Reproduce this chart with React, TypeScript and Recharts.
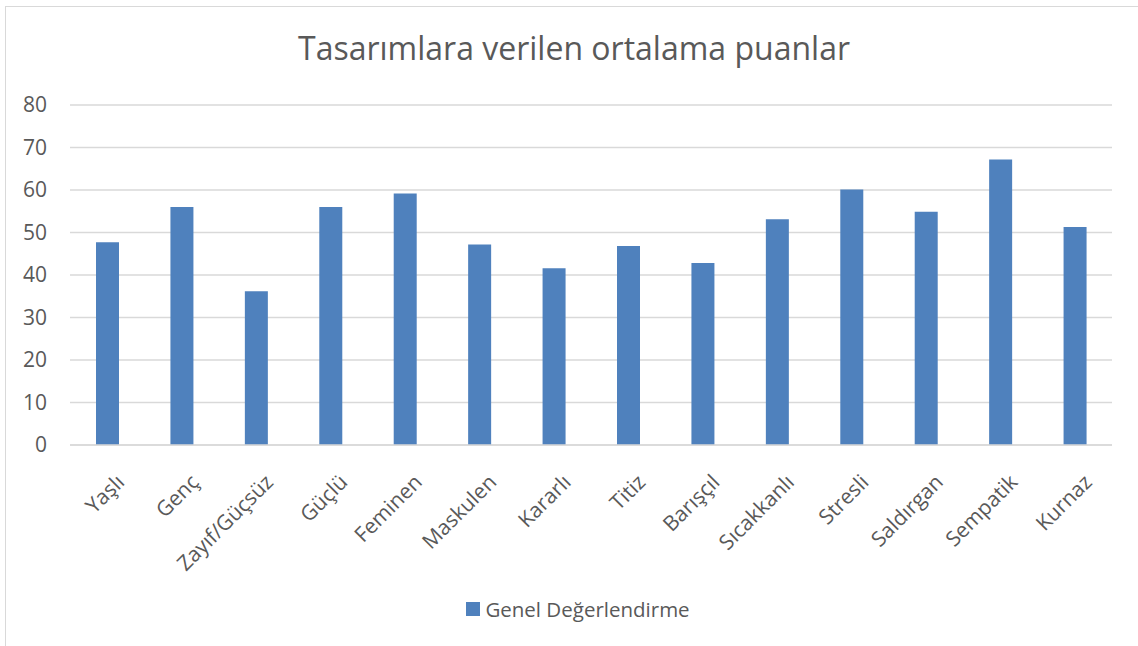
import { BarChart, Bar, XAxis, YAxis, CartesianGrid, Legend } from 'recharts';

const categories = [
  'Yaşlı', 'Genç', 'Zayıf/Güçsüz', 'Güçlü', 'Feminen', 'Maskulen', 'Kararlı',
  'Titiz', 'Barışçıl', 'Sıcakkanlı', 'Stresli', 'Saldırgan', 'Sempatik', 'Kurnaz',
];
const genelValues = [47.7, 56.0, 36.2, 56.0, 59.2, 47.2, 41.6, 46.8, 42.8, 53.1, 60.1, 54.9, 67.2, 51.3];
const yTicks = [0, 10, 20, 30, 40, 50, 60, 70, 80];

const SERIES_NAME = 'Genel Değerlendirme';
const BAR_COLOR = '#4f81bd';
const TEXT_COLOR = '#595959';
const GRID_COLOR = '#d9d9d9';
const FONT = '"Open Sans", "Noto Sans", sans-serif';

const data = categories.map((name, i) => ({ name, value: genelValues[i] }));

function AngledTick(props: any) {
  const { x, y, payload } = props;
  return (
    <g transform={`translate(${x + 6},${y + 18})`}>
      <text
        transform="rotate(-45)"
        textAnchor="end"
        dominantBaseline="hanging"
        fill={TEXT_COLOR}
        fontSize={21}
        fontFamily={FONT}
      >
        {payload.value}
      </text>
    </g>
  );
}

function LegendContent() {
  return (
    <div style={{ display: 'flex', alignItems: 'center', justifyContent: 'center', fontFamily: FONT }}>
      <span style={{ width: 14, height: 14, background: BAR_COLOR, display: 'inline-block', marginRight: 5 }} />
      <span style={{ fontSize: 20.5, color: TEXT_COLOR, lineHeight: '24px' }}>{SERIES_NAME}</span>
    </div>
  );
}

export default function App() {
  return (
    <div style={{ position: 'fixed', left: 0, top: 0, width: 1138, height: 646, background: '#fff', overflow: 'hidden' }}>
      <div
        style={{
          position: 'absolute', left: 5, top: 6, width: 1140, height: 650,
          border: `1px solid ${GRID_COLOR}`, boxSizing: 'border-box',
        }}
      />
      <div
        style={{
          position: 'absolute', left: 0, top: 28, width: 1148, textAlign: 'center',
          fontFamily: FONT, fontSize: 32, color: TEXT_COLOR, lineHeight: '40px',
        }}
      >
        Tasarımlara verilen ortalama puanlar
      </div>
      <div style={{ position: 'absolute', left: 0, top: 0 }}>
        <BarChart width={1138} height={646} data={data} margin={{ top: 105, right: 26, bottom: 0, left: 0 }}>
          <CartesianGrid vertical={false} stroke={GRID_COLOR} strokeWidth={1.5} />
          <XAxis
            dataKey="name"
            interval={0}
            height={177}
            tick={<AngledTick />}
            tickLine={false}
            axisLine={{ stroke: GRID_COLOR, strokeWidth: 1.5 }}
          />
          <YAxis
            domain={[0, 80]}
            ticks={yTicks}
            width={70}
            tickLine={false}
            axisLine={false}
            tickSize={0}
            tickMargin={23}
            tick={{ fill: TEXT_COLOR, fontSize: 21, fontFamily: FONT }}
          />
          <Legend
            content={<LegendContent />}
            wrapperStyle={{ position: 'absolute', top: 597, left: 0, width: 1156, height: 24 }}
          />
          <Bar dataKey="value" name={SERIES_NAME} fill={BAR_COLOR} barSize={23} isAnimationActive={false} />
        </BarChart>
      </div>
    </div>
  );
}
